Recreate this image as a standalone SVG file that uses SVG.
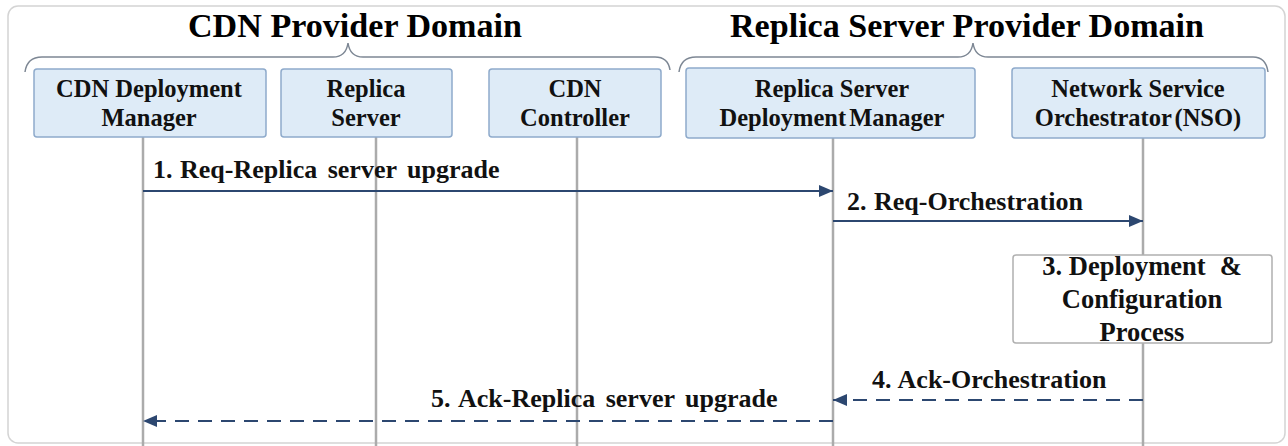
<svg xmlns="http://www.w3.org/2000/svg" width="1288" height="446" viewBox="0 0 1288 446">
  <style>
    .title { font-family: "Liberation Serif", "Times New Roman", serif; font-weight: bold; font-size: 34px; fill: #000; }
    .node rect { fill: #deebf7; stroke: #8eaacb; stroke-width: 1.5; }
    .node text { font-family: "Liberation Serif", "Times New Roman", serif; font-weight: bold; font-size: 24.5px; fill: #111; text-anchor: middle; }
    .brace { fill: none; stroke: #7d8794; stroke-width: 1.5; }
    .lifeline { stroke: #ababab; stroke-width: 2.5; }
    .msg { stroke: #2c4770; stroke-width: 2; fill: none; }
    .dash { stroke-dasharray: 14 9; }
    .label { font-family: "Liberation Serif", "Times New Roman", serif; font-weight: bold; font-size: 26px; word-spacing: 1px; fill: #111; }
    .label tspan { word-spacing: 4px; }
    .proc rect { fill: #fff; stroke: #b0b0b0; stroke-width: 1.5; }
    .proc text { font-family: "Liberation Serif", "Times New Roman", serif; font-weight: bold; font-size: 26.5px; fill: #111; text-anchor: middle; }
  </style>
  <defs>
    <marker id="arrow" viewBox="0 0 14 12" refX="14" refY="6" markerWidth="14" markerHeight="12" markerUnits="userSpaceOnUse" orient="auto">
      <path d="M0,0 L14,6 L0,12 Z" fill="#2c4770"/>
    </marker>
  </defs>

  <!-- outer frame -->
  <rect x="8" y="6" width="1277" height="437" rx="10" fill="#fff" stroke="#d4d4d4" stroke-width="1.5"/>

  <!-- domain titles and braces -->
  <g id="domain-cdn">
    <text class="title" x="188" y="37" textLength="334" lengthAdjust="spacingAndGlyphs">CDN Provider Domain</text>
    <path class="brace" d="M25,72 Q27,57 42,57 L333,57 Q346,57 348,43 Q350,57 363,57 L655,57 Q668,57 670,70"/>
  </g>
  <g id="domain-replica">
    <text class="title" x="730" y="37" textLength="474" lengthAdjust="spacingAndGlyphs">Replica Server Provider Domain</text>
    <path class="brace" d="M679,72 Q681,57 696,57 L958,57 Q971,57 973,43 Q975,57 988,57 L1253,57 Q1266,57 1268,72"/>
  </g>

  <!-- lifelines -->
  <g id="lifelines">
    <line class="lifeline" x1="143" y1="137" x2="143" y2="446"/>
    <line class="lifeline" x1="376" y1="137" x2="376" y2="446"/>
    <line class="lifeline" x1="577" y1="137" x2="577" y2="446"/>
    <line class="lifeline" x1="833" y1="138" x2="833" y2="446"/>
    <line class="lifeline" x1="1143" y1="138" x2="1143" y2="446"/>
  </g>

  <!-- participants -->
  <g id="cdn-deployment-manager" class="node">
    <rect x="34" y="69" width="232" height="68" rx="3"/>
    <text x="149" y="97">CDN Deployment</text>
    <text x="149" y="126">Manager</text>
  </g>
  <g id="replica-server" class="node">
    <rect x="281" y="69" width="171" height="68" rx="3"/>
    <text x="366" y="97">Replica</text>
    <text x="366" y="126">Server</text>
  </g>
  <g id="cdn-controller" class="node">
    <rect x="489" y="69" width="172" height="68" rx="3"/>
    <text x="575" y="97">CDN</text>
    <text x="575" y="126">Controller</text>
  </g>
  <g id="replica-server-deployment-manager" class="node">
    <rect x="686" y="68" width="289" height="70" rx="3"/>
    <text x="832" y="97">Replica Server</text>
    <text x="832" y="126" word-spacing="-3">Deployment Manager</text>
  </g>
  <g id="nso" class="node">
    <rect x="1012" y="68" width="253" height="70" rx="3"/>
    <text x="1138" y="97">Network Service</text>
    <text x="1138" y="126" word-spacing="-3">Orchestrator (NSO)</text>
  </g>

  <!-- process box on the NSO lifeline -->
  <g id="deployment-process" class="proc">
    <rect x="1013" y="255" width="259" height="88" rx="3"/>
    <text x="1142" y="275">3. Deployment<tspan dx="14">&amp;</tspan></text>
    <text x="1142" y="308">Configuration</text>
    <text x="1142" y="341">Process</text>
  </g>

  <!-- messages -->
  <g id="connectors">
    <line class="msg" x1="143" y1="191" x2="833" y2="191" marker-end="url(#arrow)"/>
    <line class="msg" x1="833" y1="221" x2="1143" y2="221" marker-end="url(#arrow)"/>
    <line class="msg dash" x1="1143" y1="400" x2="833" y2="400" marker-end="url(#arrow)"/>
    <line class="msg dash" x1="833" y1="421" x2="143" y2="421" marker-end="url(#arrow)"/>
    <text class="label" x="153" y="178">1. <tspan>Req-Replica server upgrade</tspan></text>
    <text class="label" x="847" y="210">2. Req-Orchestration</text>
    <text class="label" x="872" y="388">4. Ack-Orchestration</text>
    <text class="label" x="431" y="407">5. <tspan>Ack-Replica server upgrade</tspan></text>
  </g>
</svg>
